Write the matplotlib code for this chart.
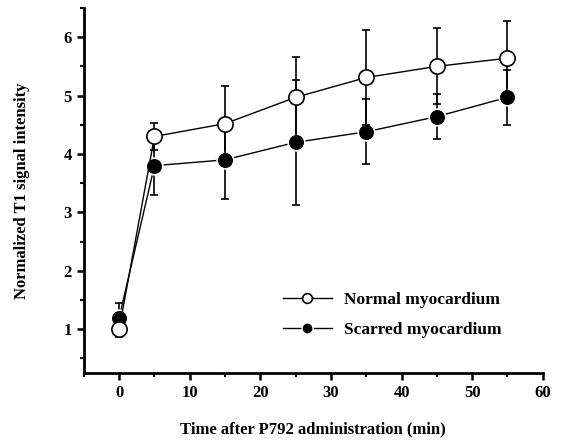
import matplotlib
matplotlib.use("Agg")
import matplotlib.pyplot as plt
from matplotlib.ticker import MultipleLocator
from matplotlib.lines import Line2D

time = [0, 5, 15, 25, 35, 45, 55]
normal = [1.0, 4.3, 4.52, 4.97, 5.31, 5.5, 5.64]
normal_err = [0.14, 0.23, 0.64, 0.69, 0.81, 0.65, 0.63]
scarred = [1.2, 3.8, 3.9, 4.2, 4.38, 4.64, 4.97]
scarred_err = [0.25, 0.5, 0.67, 1.07, 0.56, 0.38, 0.47]

plt.rcParams['font.family'] = ['Liberation Serif', 'DejaVu Serif']
plt.rcParams['font.weight'] = 'bold'

fig = plt.figure(figsize=(5.63, 4.43), dpi=100)
ax = fig.add_axes([0.149, 0.158, 0.815, 0.824])

ax.errorbar(time, scarred, yerr=scarred_err, fmt='-o', color='black', mfc='black', mec='white',
            mew=1.2, ms=12, lw=1.0, elinewidth=1.2, capsize=3, capthick=1.2, zorder=3)
ax.errorbar(time, normal, yerr=normal_err, fmt='-o', color='black', mfc='white', mec='black',
            mew=1.2, ms=11, lw=1.0, elinewidth=1.2, capsize=3, capthick=1.2, zorder=4)

ax.set_xlim(-5, 60)
ax.set_ylim(0.25, 6.5)
ax.xaxis.set_major_locator(MultipleLocator(10))
ax.xaxis.set_minor_locator(MultipleLocator(5))
ax.yaxis.set_minor_locator(MultipleLocator(0.5))
ax.set_yticks([1, 2, 3, 4, 5, 6])
for s in ['top', 'right']:
    ax.spines[s].set_visible(False)
for s in ['left', 'bottom']:
    ax.spines[s].set_linewidth(2)
ax.tick_params(which='major', length=5, width=1.8, labelsize=12)
ax.tick_params(which='minor', length=3, width=1.5)
ax.set_xlabel('Time after P792 administration (min)', fontsize=12, fontweight='bold', labelpad=15)
ax.set_ylabel('Normalized T1 signal intensity', fontsize=12, fontweight='bold', labelpad=24)

handles = [
    Line2D([], [], color='black', lw=1.0, marker='o', mfc='white', mec='black', mew=1.2, ms=7),
    Line2D([], [], color='black', lw=1.0, marker='o', mfc='black', mec='white', mew=1.0, ms=8),
]
labels = ['Normal myocardium', 'Scarred myocardium']
ax.legend(handles, labels, loc='upper left', bbox_to_anchor=(0.4, 0.265), frameon=False,
          fontsize=12.5, handlelength=2.8, handletextpad=0.7, labelspacing=0.8)
fig.savefig('out.png', dpi=100)
